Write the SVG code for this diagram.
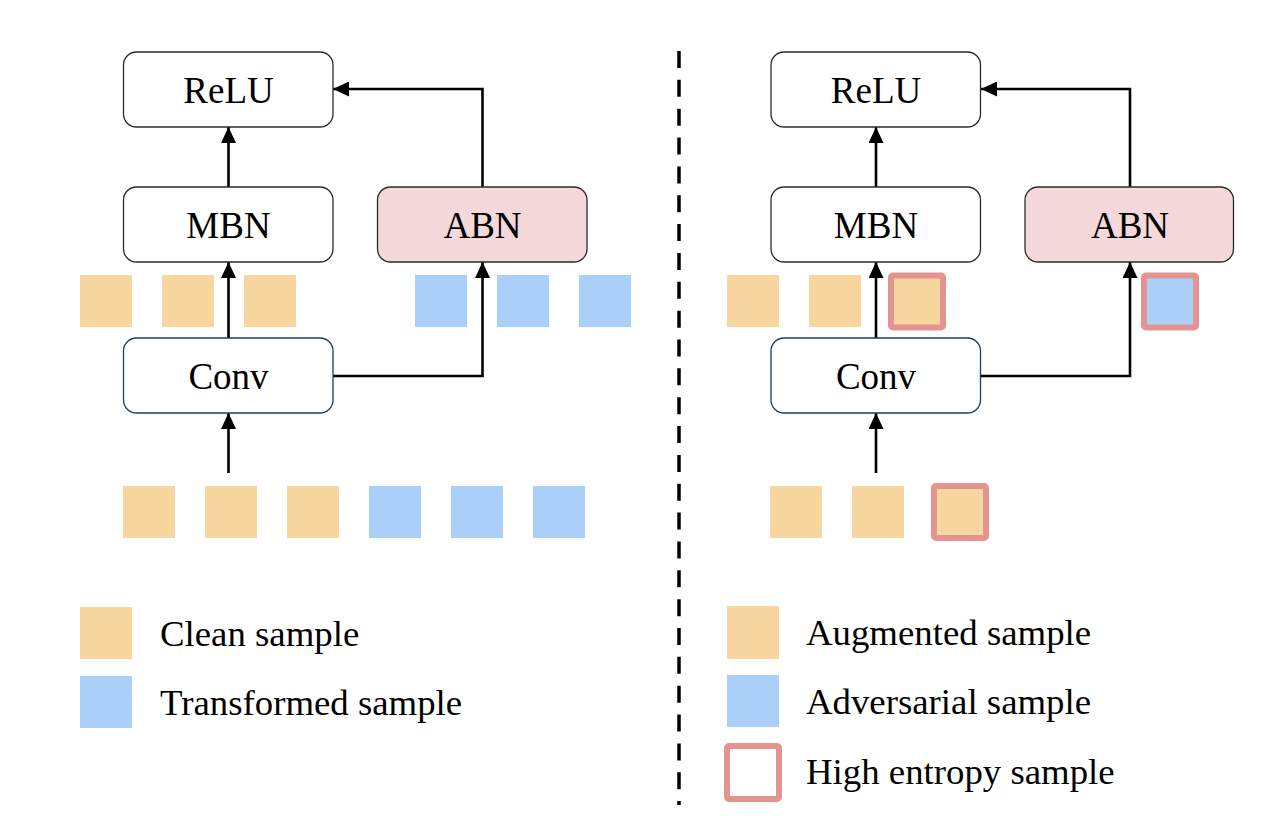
<svg xmlns="http://www.w3.org/2000/svg" width="1262" height="832" viewBox="0 0 1262 832">
<defs>
<style>
.box{fill:#ffffff;stroke:#2b2b2b;stroke-width:1.3}
.conv{fill:#ffffff;stroke:#1f3a66;stroke-width:1.3}
.abn{fill:#f5d9da;stroke:#2b2b2b;stroke-width:1.3}
.lbl{font-family:"Liberation Serif","Times New Roman",serif;font-size:37px;fill:#000;text-anchor:middle}
.leg{font-family:"Liberation Serif","Times New Roman",serif;font-size:36.8px;fill:#000}
.or{fill:#f7d6a0}
.bl{fill:#aad0fa}
.he{stroke:#e49490;stroke-width:6}
.con{fill:none;stroke:#000;stroke-width:2.6;marker-end:url(#arr)}
</style>
<marker id="arr" markerUnits="userSpaceOnUse" markerWidth="16" markerHeight="15" refX="16" refY="7.5" orient="auto">
<path d="M0,0 L16,7.5 L0,15 z" fill="#000"/>
</marker>
</defs>
<rect width="1262" height="832" fill="#ffffff"/>

<!-- divider -->
<line x1="679" y1="51" x2="679" y2="805" stroke="#000" stroke-width="3.5" stroke-dasharray="17 11.85"/>

<g id="connectors">
<line class="con" x1="228.5" y1="187" x2="228.5" y2="127"/>
<line class="con" x1="228.5" y1="338" x2="228.5" y2="262"/>
<line class="con" x1="228.5" y1="473" x2="228.5" y2="413"/>
<path class="con" d="M333,376 H482.5 V262"/>
<path class="con" d="M482.5,187 V89 H333"/>
<line class="con" x1="876" y1="187" x2="876" y2="127"/>
<line class="con" x1="876" y1="338" x2="876" y2="262"/>
<line class="con" x1="876" y1="473" x2="876" y2="413"/>
<path class="con" d="M981,376 H1130 V262"/>
<path class="con" d="M1130,187 V89 H981"/>
</g>

<!-- left panel nodes -->
<g id="relu-left"><rect class="box" x="123.5" y="52" width="209.5" height="75" rx="13"/><text class="lbl" x="228.5" y="103">ReLU</text></g>
<g id="mbn-left"><rect class="box" x="123.5" y="187" width="209.5" height="75" rx="13"/><text class="lbl" x="228.5" y="238">MBN</text></g>
<g id="abn-left"><rect class="abn" x="377.5" y="187" width="209.5" height="75" rx="13"/><text class="lbl" x="482.5" y="238">ABN</text></g>
<g id="conv-left"><rect class="conv" x="123.5" y="338" width="209.5" height="75" rx="13"/><text class="lbl" x="228.5" y="389">Conv</text></g>

<g id="samples-left-mid">
<rect class="or" x="80" y="275" width="52" height="52"/>
<rect class="or" x="162" y="275" width="52" height="52"/>
<rect class="or" x="244" y="275" width="52" height="52"/>
<rect class="bl" x="415" y="275" width="52" height="52"/>
<rect class="bl" x="497" y="275" width="52" height="52"/>
<rect class="bl" x="579" y="275" width="52" height="52"/>
</g>
<g id="samples-left-bottom">
<rect class="or" x="123" y="486" width="52" height="52"/>
<rect class="or" x="205" y="486" width="52" height="52"/>
<rect class="or" x="287" y="486" width="52" height="52"/>
<rect class="bl" x="369" y="486" width="52" height="52"/>
<rect class="bl" x="451" y="486" width="52" height="52"/>
<rect class="bl" x="533" y="486" width="52" height="52"/>
</g>
<g id="legend-left">
<rect class="or" x="80" y="607" width="52" height="52"/>
<text class="leg" x="160" y="646">Clean sample</text>
<rect class="bl" x="80" y="676" width="52" height="52"/>
<text class="leg" x="160" y="715">Transformed sample</text>
</g>

<!-- right panel nodes -->
<g id="relu-right"><rect class="box" x="771" y="52" width="209.5" height="75" rx="13"/><text class="lbl" x="876" y="103">ReLU</text></g>
<g id="mbn-right"><rect class="box" x="771" y="187" width="209.5" height="75" rx="13"/><text class="lbl" x="876" y="238">MBN</text></g>
<g id="abn-right"><rect class="abn" x="1025" y="187" width="208.5" height="75" rx="13"/><text class="lbl" x="1130" y="238">ABN</text></g>
<g id="conv-right"><rect class="conv" x="771" y="338" width="209.5" height="75" rx="13"/><text class="lbl" x="876" y="389">Conv</text></g>

<g id="samples-right-mid">
<rect class="or" x="727" y="275" width="52" height="52"/>
<rect class="or" x="809" y="275" width="52" height="52"/>
<rect class="or he" x="891" y="275.5" width="52" height="52" rx="2"/>
<rect class="bl he" x="1144" y="275.5" width="52" height="52" rx="2"/>
</g>
<g id="samples-right-bottom">
<rect class="or" x="770" y="486" width="52" height="52"/>
<rect class="or" x="852" y="486" width="52" height="52"/>
<rect class="or he" x="934" y="486" width="52" height="52" rx="2"/>
</g>
<g id="legend-right">
<rect class="or" x="727" y="606" width="52" height="53"/>
<text class="leg" x="806" y="645">Augmented sample</text>
<rect class="bl" x="727" y="675" width="52" height="52"/>
<text class="leg" x="806" y="714">Adversarial sample</text>
<rect x="727" y="746" width="52" height="53" rx="2" fill="#ffffff" class="he"/>
<text class="leg" x="806" y="784">High entropy sample</text>
</g>
</svg>
